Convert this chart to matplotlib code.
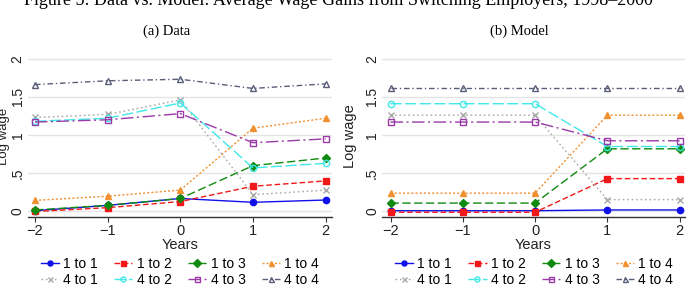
import matplotlib
matplotlib.use('Agg')
import matplotlib.pyplot as plt

plt.rcParams['font.family'] = ['Liberation Sans', 'DejaVu Sans']

years = [-2, -1, 0, 1, 2]
series_names = ['1 to 1', '1 to 2', '1 to 3', '1 to 4', '4 to 1', '4 to 2', '4 to 3', '4 to 4']

# panel (a) Data
data_11 = [0.01, 0.08, 0.17, 0.12, 0.15]
data_12 = [0.00, 0.05, 0.13, 0.33, 0.40]
data_13 = [0.02, 0.08, 0.17, 0.60, 0.70]
data_14 = [0.145, 0.20, 0.28, 1.09, 1.22]
data_41 = [1.23, 1.27, 1.46, 0.22, 0.28]
data_42 = [1.18, 1.22, 1.42, 0.57, 0.63]
data_43 = [1.17, 1.20, 1.28, 0.90, 0.95]
data_44 = [1.66, 1.71, 1.73, 1.61, 1.67]

# panel (b) Model
model_11 = [0.01, 0.01, 0.01, 0.02, 0.02]
model_12 = [-0.01, -0.01, -0.01, 0.43, 0.43]
model_13 = [0.11, 0.11, 0.11, 0.82, 0.82]
model_14 = [0.24, 0.24, 0.24, 1.26, 1.26]
model_41 = [1.26, 1.26, 1.26, 0.155, 0.155]
model_42 = [1.41, 1.41, 1.41, 0.85, 0.85]
model_43 = [1.17, 1.17, 1.17, 0.925, 0.925]
model_44 = [1.61, 1.61, 1.61, 1.61, 1.61]

data_series = [data_11, data_12, data_13, data_14, data_41, data_42, data_43, data_44]
model_series = [model_11, model_12, model_13, model_14, model_41, model_42, model_43, model_44]

styles = [
    dict(color='#1010e8', ls='-', marker='o', mfc='#1010e8'),
    dict(color='#f01818', ls=(0, (4, 2)), marker='s', mfc='#f01818'),
    dict(color='#108a10', ls=(0, (6, 2.5)), marker='D', mfc='#108a10'),
    dict(color='#f09030', ls=(0, (1.5, 1.5)), marker='^', mfc='#f09030'),
    dict(color='#a8a8a8', ls=(0, (1.2, 2)), marker='x', mfc='#a8a8a8'),
    dict(color='#40e8e8', ls=(0, (8, 2.5)), marker='o', mfc='none'),
    dict(color='#9a3aa8', ls=(0, (9, 2.5, 1.5, 2.5)), marker='s', mfc='none'),
    dict(color='#5a5e78', ls=(0, (4, 2, 1, 2)), marker='^', mfc='none'),
]

fig = plt.figure(figsize=(6.93, 2.94), dpi=100)

fig.text(0.488, 1.0, 'Figure 5: Data vs. Model: Average Wage Gains from Switching Employers, 1998\u20132000',
         ha='center', va='center', fontsize=13, family='Liberation Serif')

panels = [
    ('(a) Data', data_series, [0.0404, 0.263, 0.4387, 0.548], (-2.096, 2.087), 180, -0.06, 2.5, 9.5),
    ('(b) Model', model_series, [0.551, 0.263, 0.437, 0.548], (-2.12, 2.07), 534, -0.083, 2, 10.5),
]

for title, series, rect, xlim, legx, ylab_x, ypad, ylab_size in panels:
    ax = fig.add_axes(rect)
    handles = []
    for name, vals, st in zip(series_names, series, styles):
        h, = ax.plot(years, vals, color=st['color'], linestyle=st['ls'], marker=st['marker'],
                     markerfacecolor=st['mfc'], markeredgecolor=st['color'],
                     markersize=4.5, markeredgewidth=1.0, linewidth=1.0, label=name)
        handles.append(h)
    ax.set_xlim(*xlim)
    ax.set_ylim(-0.068, 2.04)
    ax.set_yticks([0, 0.5, 1, 1.5, 2])
    ax.set_yticklabels(['0', '.5', '1', '1.5', '2'], rotation=90, va='center')
    ax.set_xticks(years)
    ax.set_xticklabels(['\u22122', '\u22121', '0', '1', '2'])
    ax.grid(True, axis='y', color='#e4e4e4', linewidth=1.0)
    ax.set_axisbelow(True)
    for side in ['top', 'right', 'left']:
        ax.spines[side].set_visible(False)
    ax.spines['bottom'].set_color('#333333')
    ax.spines['bottom'].set_linewidth(1.0)
    ax.tick_params(axis='y', length=0, pad=ypad, labelsize=10, colors='#222222')
    ax.tick_params(axis='x', length=3.5, width=0.8, color='#333333', pad=1.5, labelsize=10.5, labelcolor='#222222')
    ax.set_xlabel('Years', fontsize=10.5, labelpad=0, color='#222222')
    ax.set_ylabel('Log wage', fontsize=ylab_size, color='#222222')
    ax.yaxis.set_label_coords(ylab_x, 0.5)
    fig.text(rect[0] + rect[2] / 2 - 0.02, 0.893, title, ha='center', va='center',
             fontsize=10.5, family='Liberation Serif')
    # matplotlib fills legend columns first, so interleave to get two rows
    order = [0, 4, 1, 5, 2, 6, 3, 7]
    fig.legend(handles=[handles[i] for i in order], loc='center',
               bbox_to_anchor=(legx / 693, 0.075), ncol=4,
               frameon=False, fontsize=10, handlelength=1.3, handletextpad=0.3,
               columnspacing=1.2, labelspacing=0.15, borderpad=0, markerscale=0.8)

fig.savefig('out.png', dpi=100)
